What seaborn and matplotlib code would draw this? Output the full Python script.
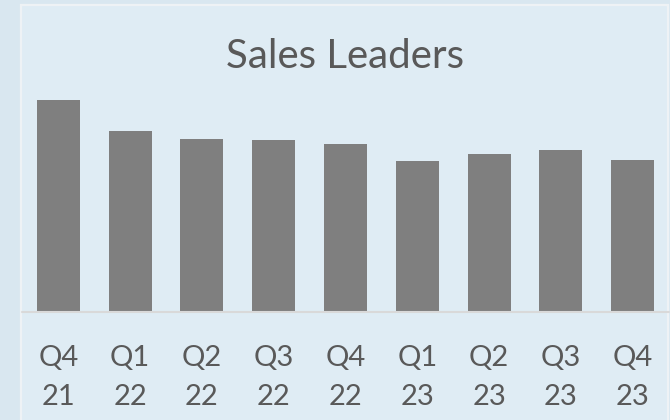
import matplotlib
matplotlib.use("Agg")
import matplotlib.pyplot as plt
from matplotlib.patches import Rectangle
import seaborn as sns
import pandas as pd

# quarterly sales (arbitrary units)
quarters = ["Q4", "Q1", "Q2", "Q3", "Q4", "Q1", "Q2", "Q3", "Q4"]
years = ["21", "22", "22", "22", "22", "23", "23", "23", "23"]
sales = [212, 181, 173, 172, 168, 151, 158, 162, 152]

labels = [f"{q}\n{y}" for q, y in zip(quarters, years)]
df = pd.DataFrame({"period": labels, "sales": sales})

sns.set_theme(style="white")
plt.rcParams["font.family"] = ["Lato", "DejaVu Sans"]

W, H = 670, 420
fig = plt.figure(figsize=(W / 100, H / 100), dpi=100)
fig.patch.set_facecolor("#d9e7f0")

# chart area panel with light border, behind the axes
panel = Rectangle((21 / W, -0.05), 647 / W, (H - 5) / H + 0.05,
                  transform=fig.transFigure, facecolor="#dfecf4",
                  edgecolor="#eef2f5", lw=1.6, zorder=-5)
fig.add_artist(panel)

ax = fig.add_axes([22.4 / W, (H - 312) / H, 646.2 / W, 307 / H])
ax.patch.set_alpha(0)

sns.barplot(data=df, x="period", y="sales", color="#7f7f7f", saturation=1,
            width=0.6, linewidth=0, ax=ax)

ax.set_ylim(0, 307)
ax.set_xlim(-0.5, len(sales) - 0.5)
ax.axhline(0, color="#d9d9d9", lw=1.5, clip_on=False)
for s in ax.spines.values():
    s.set_visible(False)
ax.set_yticks([])
ax.set_xlabel("")
ax.set_ylabel("")
ax.tick_params(axis="x", length=0, pad=24, labelsize=21, labelcolor="#595959")
for t in ax.get_xticklabels():
    t.set_linespacing(1.62)

fig.text(345 / W, (H - 68) / H, "Sales Leaders", ha="center", va="baseline",
         fontsize=29, color="#595959")

fig.savefig("out.png", dpi=100, facecolor=fig.get_facecolor())
